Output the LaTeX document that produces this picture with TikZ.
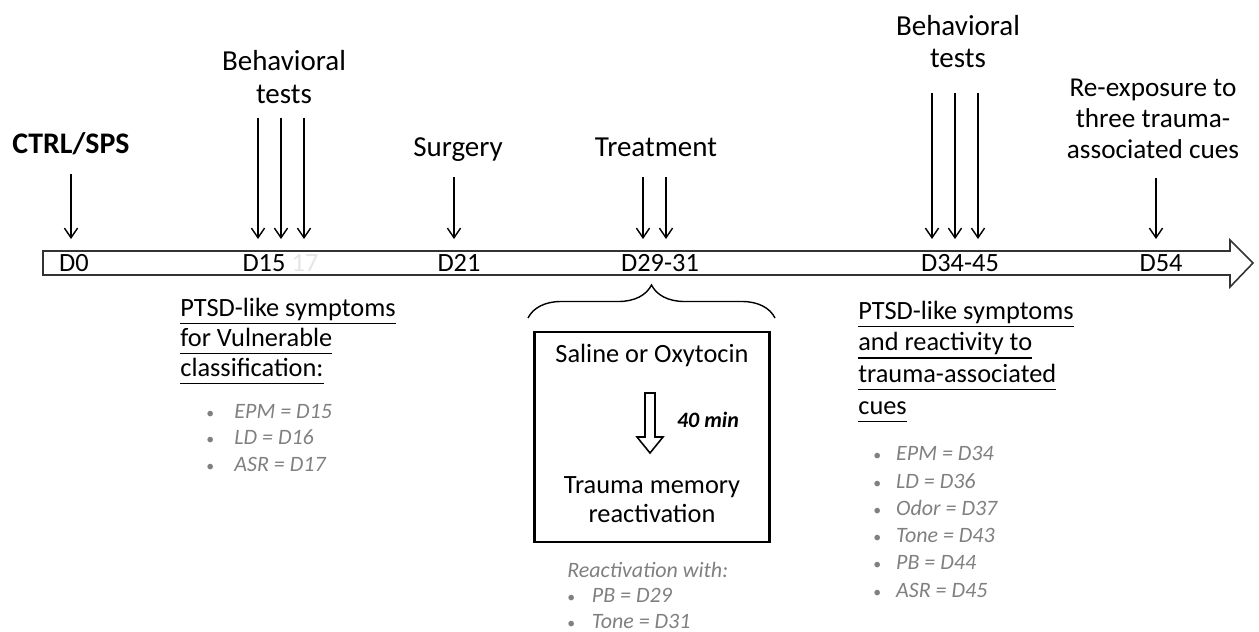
\documentclass[tikz,border=0pt]{standalone}
\usepackage{fontspec}
\setmainfont{Carlito}
\usetikzlibrary{arrows.meta, positioning, calc, decorations.pathreplacing}

\newsavebox{\undlbox}
\newcommand{\itm}[2][14pt]{\makebox[#1][l]{\upshape\fontsize{9}{9}\selectfont\textbullet}#2}
\newcommand{\undl}[1]{\sbox{\undlbox}{#1}\rlap{\rule[-4.6pt]{\wd\undlbox}{0.85pt}}\usebox{\undlbox}}

\begin{document}
\begin{tikzpicture}[
    x=0.02cm, y=-0.02cm,
    event/.style={align=center, anchor=base, inner sep=0pt, font=\fontsize{16.5}{18.7}\selectfont},
    day/.style={anchor=base, inner sep=0pt, font=\fontsize{15}{17}\selectfont},
    tick/.style={-{Straight Barb[length=5.5pt, width=7.5pt]}, line width=0.8pt},
    note/.style={align=left, anchor=base west, inner sep=0pt, font=\fontsize{15}{17}\selectfont},
    items/.style={align=left, anchor=base west, inner sep=0pt, text=black!50, font=\fontsize{12.5}{15}\selectfont\itshape},
    boxtext/.style={align=center, anchor=base, inner sep=0pt, font=\fontsize{15}{16.4}\selectfont}
]

\useasboundingbox (0,0) rectangle (1259,632);

% Timeline
\draw[line width=0.9pt, draw=black!80, fill=white] (43,251) -- (1230,251) -- (1230,240) -- (1253,263) -- (1230,287) -- (1230,275) -- (43,275) -- cycle;

% Day labels
\node[day] (d0) at (74,271) {D0};
\node[day] (d15) at (264,271) {D15};
\node[day, text=black!10] (d17) at (305,271) {17};
\node[day] (d21) at (459,271) {D21};
\node[day] (d29) at (660,271) {D29-31};
\node[day] (d34) at (960,271) {D34-45};
\node[day] (d54) at (1161,271) {D54};

% Events (anchor base = last line)
\node[event, font=\bfseries\fontsize{17}{19}\selectfont] (ctrl) at (71,153) {CTRL/SPS};
\node[event] (behA) at (284,103) {Behavioral\\tests};
\node[event] (surg) at (458,156) {Surgery};
\node[event] (treat) at (656,156) {Treatment};
\node[event] (behB) at (958,68) {Behavioral\\tests};
\node[event, font=\fontsize{15.5}{17.6}\selectfont] (reexp) at (1153,158) {Re-exposure to\\three trauma-\\associated cues};

% Arrow ends on the timeline
\foreach \n/\x in {0/71, 15a/258, 15b/281, 15c/304, 21/454, 29a/643, 29b/666, 34a/932, 34b/955, 34c/978, 54/1156}
    \coordinate (e\n) at (\x,239);

% Arrows
\draw[tick, shorten <=12pt] (ctrl.base -| e0) -- (e0);
\foreach \n in {15a,15b,15c}
    \draw[tick, shorten <=8pt] (behA.south -| e\n) -- (e\n);
\draw[tick, shorten <=12pt] (surg.base -| e21) -- (e21);
\foreach \n in {29a,29b}
    \draw[tick, shorten <=12pt] (treat.base -| e\n) -- (e\n);
\foreach \n in {34a,34b,34c}
    \draw[tick, shorten <=14pt] (behB.south -| e\n) -- (e\n);
\draw[tick, shorten <=11pt] (reexp.south -| e54) -- (e54);

% Brace and treatment box
\draw[line width=0.8pt, decorate, decoration={brace, amplitude=0.66cm}] (528,318) -- (775,318);
\node[draw, line width=1.3pt, minimum width=4.7cm, minimum height=4.2cm] (box) at (652,437) {};
\node[boxtext] (saline) at (652,362) {Saline or Oxytocin};
\draw[line width=0.9pt, fill=white] (645,393) -- (655,393) -- (655,437) -- (663,437) -- (650,453) -- (637,437) -- (645,437) -- cycle;
\node[boxtext, font=\bfseries\itshape\fontsize{12.5}{15}\selectfont] (dur) at (708,427) {40 min};
\node[boxtext] (recall) at (652,522) {Trauma memory\\reactivation};
\node[items, font=\fontsize{12.5}{14.5}\selectfont\itshape] (react) at (567,628) {Reactivation with:\\\itm{PB = D29}\\\itm{Tone = D31}};

% Notes
\node[note] (noteA) at (180,376) {\undl{PTSD-like symptoms}\\\undl{for Vulnerable}\\\undl{classification:}};
\node[items] (listA) at (206,471) {\itm[16pt]{EPM = D15}\\\itm[16pt]{LD = D16}\\\itm[16pt]{ASR = D17}};
\node[note, font=\fontsize{15}{18}\selectfont] (noteB) at (858,414) {\undl{PTSD-like symptoms}\\\undl{and reactivity to}\\\undl{trauma-associated}\\\undl{cues}};
\node[items, font=\fontsize{12.5}{15.5}\selectfont\itshape] (listB) at (873,597) {\itm[13pt]{EPM = D34}\\\itm[13pt]{LD = D36}\\\itm[13pt]{Odor = D37}\\\itm[13pt]{Tone = D43}\\\itm[13pt]{PB = D44}\\\itm[13pt]{ASR = D45}};

\end{tikzpicture}
\end{document}
